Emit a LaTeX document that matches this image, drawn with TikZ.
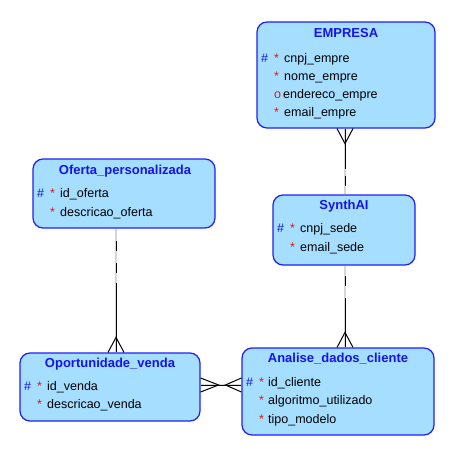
\documentclass[tikz,border=0pt]{standalone}
\usepackage{fontspec}
\setmainfont{Liberation Sans}
\usetikzlibrary{calc}
\definecolor{boxfill}{RGB}{166,222,255}
\definecolor{boxdraw}{RGB}{30,30,250}
\definecolor{ttlblue}{RGB}{20,20,235}
\definecolor{keyred}{RGB}{230,20,20}
\definecolor{under}{RGB}{215,215,215}
\tikzset{
  ent/.style={draw=boxdraw, fill=boxfill, line width=1.2pt, rounded corners=10pt, inner sep=0pt},
  ttl/.style={anchor=base, inner sep=0pt, text=ttlblue, font=\fontsize{13}{15}\selectfont\bfseries},
  attr/.style={anchor=base west, inner sep=0pt, font=\fontsize{12.5}{15}\selectfont},
  hashk/.style={anchor=base west, inner sep=0pt, text=ttlblue, font=\fontsize{12.5}{15}\selectfont},
  stark/.style={anchor=base west, inner sep=0pt, text=keyred, font=\fontsize{12.5}{15}\selectfont},
  uline/.style={draw=under, line width=2.2pt},
  rel/.style={draw=black, line width=1pt},
  crow/.style={draw=black, line width=1pt},
}
\begin{document}
\begin{tikzpicture}[x=1pt,y=-1pt]
\useasboundingbox (0,0) rectangle (460,460);
% entity boxes
\node[ent, minimum width=178pt, minimum height=106pt] (emp) at (346,75) {};
\node[ent, minimum width=182pt, minimum height=69pt] (ofe) at (124,193.5) {};
\node[ent, minimum width=142pt, minimum height=70pt] (syn) at (344,230) {};
\node[ent, minimum width=180pt, minimum height=68pt] (opo) at (110,387) {};
\node[ent, minimum width=192pt, minimum height=87pt] (ana) at (338,391.5) {};
% EMPRESA
\node[ttl] (empt) at (346,37.8) {EMPRESA};
\node[hashk] (e1h) at (261,62.5) {\#};
\node[stark] (e1s) at (274,62.5) {*};
\node[attr] (e1) at (284,62.5) {cnpj\_empre};
\node[stark] (e2s) at (274,80) {*};
\node[attr] (e2) at (284,80) {nome\_empre};
\node[stark] (e3s) at (274,98) {o};
\node[attr] (e3) at (283,98) {endereco\_empre};
\node[stark] (e4s) at (274,116) {*};
\node[attr] (e4) at (284,116) {email\_empre};
% Oferta_personalizada
\node[ttl] (ofet) at (125,174.5) {Oferta\_personalizada};
\node[hashk] (o1h) at (37,197.5) {\#};
\node[stark] (o1s) at (50,197.5) {*};
\node[attr] (o1) at (60,197.5) {id\_oferta};
\node[stark] (o2s) at (50,216) {*};
\node[attr] (o2) at (60,216) {descricao\_oferta};
% SynthAI
\node[ttl] (synt) at (344,209.5) {SynthAI};
\node[hashk] (s1h) at (277,232.5) {\#};
\node[stark] (s1s) at (290,232.5) {*};
\node[attr] (s1) at (300,232.5) {cnpj\_sede};
\node[stark] (s2s) at (290,251) {*};
\node[attr] (s2) at (300,251) {email\_sede};
% Oportunidade_venda
\node[ttl] (opot) at (110,367.5) {Oportunidade\_venda};
\node[hashk] (p1h) at (24,390.5) {\#};
\node[stark] (p1s) at (37,390.5) {*};
\node[attr] (p1) at (47,390.5) {id\_venda};
\node[stark] (p2s) at (37,408.5) {*};
\node[attr] (p2) at (47,408.5) {descricao\_venda};
% Analise_dados_cliente
\node[ttl] (anat) at (338,362.5) {Analise\_dados\_cliente};
\node[hashk] (a1h) at (246,386.5) {\#};
\node[stark] (a1s) at (259,386.5) {*};
\node[attr] (a1) at (268,386.5) {id\_cliente};
\node[stark] (a2s) at (259,404.5) {*};
\node[attr] (a2) at (268,404.5) {algoritmo\_utilizado};
\node[stark] (a3s) at (259,423) {*};
\node[attr] (a3) at (268,423) {tipo\_modelo};
% anchor coordinates of connectors
\coordinate (ce) at ($(emp.south)+(-1,0)$);
\coordinate (cs1) at (ce |- syn.north);
\coordinate (cs2) at (ce |- syn.south);
\coordinate (ca) at (ce |- ana.north);
\coordinate (co) at ($(ofe.south)+(-8,0)$);
\coordinate (cp) at (co |- opo.north);
\coordinate (cpe) at ($(opo.east)+(0,-2)$);
\coordinate (cae) at (cpe -| ana.west);
% EMPRESA -- SynthAI
\draw[uline] (ce) -- (cs1);
\draw[rel] (ce) -- ($(ce)+(0,40)$);
\draw[rel, dash pattern=on 0pt off 7pt on 10pt off 20pt] ($(ce)+(0,40)$) -- (cs1);
\draw[crow] ($(ce)+(-8,0)$) -- ($(ce)+(0,15)$) -- ($(ce)+(8,0)$);
% SynthAI -- Analise
\draw[uline] (cs2) -- (ca);
\draw[rel] (ca) -- ($(cs2)+(0,32)$);
\draw[rel, dash pattern=on 0pt off 12pt on 10pt off 20pt] ($(cs2)+(0,32)$) -- (cs2);
\draw[crow] ($(ca)+(-8,0)$) -- ($(ca)+(0,-15)$) -- ($(ca)+(8,0)$);
% Oferta -- Oportunidade
\draw[uline] (co) -- (cp);
\draw[rel] (cp) -- ($(co)+(0,54)$);
\draw[rel, dash pattern=on 0pt off 10pt on 10pt off 12pt on 10pt off 20pt] ($(co)+(0,54)$) -- (co);
\draw[crow] ($(cp)+(-8,0)$) -- ($(cp)+(0,-15)$) -- ($(cp)+(8,0)$);
% Oportunidade -- Analise
\draw[uline] (cpe) -- (cae);
\draw[rel] (cpe) -- (cae);
\draw[crow] ($(cpe)+(0,-7)$) -- ($(cpe)+(18,0)$) -- ($(cpe)+(0,7)$);
\draw[crow] ($(cae)+(0,-7)$) -- ($(cae)+(-16,0)$) -- ($(cae)+(0,7)$);
\end{tikzpicture}
\end{document}
